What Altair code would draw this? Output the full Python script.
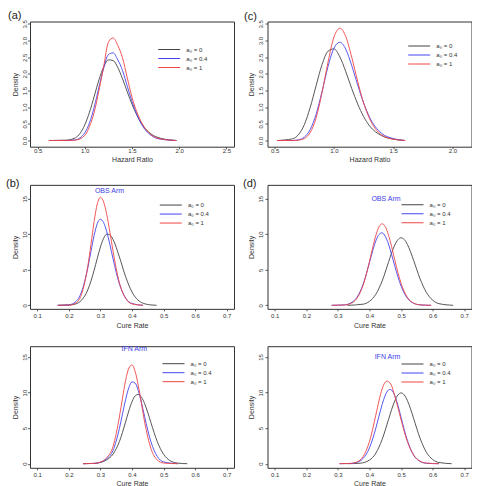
import altair as alt
import pandas as pd

# Prior weight a0 for the historical data, one curve per value
PRIORS = ["a₀ = 0", "a₀ = 0.4", "a₀ = 1"]
COLORS = ["#444444", "#4444f0", "#f04444"]

PANEL_TAGS = ["(a)", "(b)", "(c)", "(d)"]
ARM_NAMES = ["OBS Arm", "IFN Arm"]

# ---- Hazard ratio, left panel (a)
hr_a_x = [0.62, 0.80, 0.90, 1.00, 1.05, 1.10, 1.15, 1.20, 1.25, 1.30, 1.35, 1.40, 1.45, 1.50, 1.60, 1.70, 1.80, 1.97]
hr_a_0 = [0.00, 0.01, 0.08, 0.47, 0.85, 1.33, 1.82, 2.21, 2.42, 2.40, 2.19, 1.85, 1.46, 1.09, 0.51, 0.20, 0.07, 0.00]
hr_a_04 = [0.00, 0.00, 0.02, 0.23, 0.53, 1.00, 1.60, 2.17, 2.58, 2.63, 2.42, 2.10, 1.63, 1.17, 0.49, 0.16, 0.04, 0.00]
hr_a_1 = [0.00, 0.00, 0.01, 0.15, 0.42, 0.85, 1.50, 2.22, 2.95, 3.08, 2.85, 2.48, 1.88, 1.30, 0.55, 0.18, 0.05, 0.00]

# ---- Hazard ratio, right panel (c)
hr_c_x = [0.52, 0.65, 0.70, 0.75, 0.80, 0.85, 0.90, 0.95, 1.00, 1.05, 1.10, 1.15, 1.20, 1.25, 1.30, 1.40, 1.50, 1.60]
hr_c_0 = [0.00, 0.05, 0.17, 0.47, 0.99, 1.65, 2.28, 2.68, 2.75, 2.51, 2.07, 1.56, 1.10, 0.72, 0.44, 0.15, 0.04, 0.00]
hr_c_04 = [0.00, 0.00, 0.02, 0.10, 0.33, 0.79, 1.47, 2.22, 2.77, 2.95, 2.74, 2.25, 1.67, 1.13, 0.70, 0.22, 0.06, 0.00]
hr_c_1 = [0.00, 0.00, 0.01, 0.06, 0.24, 0.68, 1.44, 2.35, 3.10, 3.37, 3.12, 2.50, 1.78, 1.13, 0.66, 0.17, 0.04, 0.00]

# ---- Cure rate, OBS arm, left panel (b)
obs_b_x = [0.165, 0.20, 0.22, 0.24, 0.26, 0.27, 0.28, 0.29, 0.30, 0.31, 0.32, 0.33, 0.34, 0.36, 0.38, 0.40, 0.435]
obs_b_04 = [0.00, 0.07, 0.43, 1.86, 5.26, 7.57, 9.83, 11.49, 12.10, 11.64, 10.37, 8.55, 6.53, 3.02, 1.02, 0.26, 0.00]
obs_b_1 = [0.00, 0.03, 0.26, 1.53, 5.48, 8.56, 11.78, 14.26, 15.20, 14.56, 12.79, 10.30, 7.61, 3.20, 0.95, 0.20, 0.00]
obs_b_x0 = [0.165, 0.20, 0.22, 0.24, 0.26, 0.27, 0.28, 0.29, 0.30, 0.31, 0.32, 0.33, 0.34, 0.36, 0.38, 0.40, 0.43, 0.46, 0.478]
obs_b_0 = [0.00, 0.03, 0.17, 0.70, 2.17, 3.40, 4.93, 6.60, 8.20, 9.42, 10.02, 9.91, 9.26, 6.82, 4.00, 1.87, 0.39, 0.05, 0.00]

# ---- Cure rate, OBS arm, right panel (d)
obs_d_x = [0.28, 0.32, 0.34, 0.36, 0.38, 0.40, 0.41, 0.42, 0.43, 0.44, 0.45, 0.46, 0.47, 0.48, 0.50, 0.52, 0.54, 0.56, 0.595]
obs_d_04 = [0.00, 0.06, 0.31, 1.11, 2.98, 6.02, 7.66, 9.06, 9.96, 10.20, 9.70, 8.63, 7.15, 5.54, 2.70, 0.99, 0.28, 0.06, 0.00]
obs_d_1 = [0.00, 0.04, 0.24, 0.97, 2.86, 6.19, 8.11, 9.83, 11.03, 11.47, 11.06, 9.91, 8.26, 6.39, 3.08, 1.11, 0.30, 0.06, 0.00]
obs_d_x0 = [0.33, 0.38, 0.40, 0.42, 0.44, 0.46, 0.47, 0.48, 0.49, 0.50, 0.51, 0.52, 0.53, 0.54, 0.56, 0.58, 0.60, 0.62, 0.665]
obs_d_0 = [0.00, 0.16, 0.56, 1.55, 3.42, 6.04, 7.36, 8.48, 9.23, 9.50, 9.26, 8.57, 7.53, 6.29, 3.75, 1.82, 0.72, 0.23, 0.00]

# ---- Cure rate, IFN arm, left panel
ifn_l_x = [0.245, 0.28, 0.30, 0.32, 0.34, 0.36, 0.37, 0.38, 0.39, 0.40, 0.41, 0.42, 0.43, 0.44, 0.46, 0.48, 0.50, 0.545]
ifn_l_04 = [0.00, 0.04, 0.20, 0.70, 1.87, 4.94, 7.01, 9.06, 10.69, 11.50, 11.32, 10.26, 8.58, 6.61, 3.07, 1.03, 0.25, 0.00]
ifn_l_1 = [0.00, 0.04, 0.22, 0.85, 2.42, 6.56, 9.25, 11.74, 13.44, 13.88, 12.96, 10.97, 8.43, 5.87, 2.13, 0.52, 0.09, 0.00]
ifn_l_x0 = [0.245, 0.28, 0.30, 0.32, 0.34, 0.36, 0.38, 0.39, 0.40, 0.41, 0.42, 0.43, 0.44, 0.45, 0.46, 0.48, 0.50, 0.52, 0.545, 0.575]
ifn_l_0 = [0.00, 0.04, 0.18, 0.55, 1.35, 3.10, 5.91, 7.43, 8.72, 9.54, 9.74, 9.34, 8.44, 7.19, 5.77, 3.11, 1.32, 0.44, 0.08, 0.00]

# ---- Cure rate, IFN arm, right panel
ifn_r_x1 = [0.305, 0.34, 0.36, 0.38, 0.40, 0.42, 0.43, 0.44, 0.45, 0.455, 0.465, 0.47, 0.48, 0.49, 0.50, 0.52, 0.54, 0.56, 0.58, 0.62]
ifn_r_1 = [0.00, 0.04, 0.23, 1.02, 3.13, 6.83, 8.85, 10.52, 11.47, 11.60, 11.35, 10.95, 9.54, 7.91, 6.16, 3.10, 1.21, 0.37, 0.09, 0.00]
ifn_r_x04 = [0.305, 0.34, 0.36, 0.38, 0.40, 0.42, 0.43, 0.44, 0.45, 0.46, 0.465, 0.47, 0.48, 0.49, 0.50, 0.52, 0.54, 0.56, 0.58, 0.62]
ifn_r_04 = [0.00, 0.03, 0.19, 0.75, 2.23, 4.99, 6.68, 8.32, 9.63, 10.36, 10.45, 10.35, 9.58, 8.21, 6.51, 3.25, 1.19, 0.32, 0.06, 0.00]
ifn_r_x0 = [0.33, 0.37, 0.40, 0.42, 0.44, 0.46, 0.47, 0.48, 0.49, 0.50, 0.51, 0.52, 0.53, 0.54, 0.56, 0.58, 0.60, 0.62, 0.66]
ifn_r_0 = [0.00, 0.07, 0.51, 1.48, 3.41, 6.18, 7.61, 8.83, 9.66, 9.95, 9.67, 8.88, 7.71, 6.32, 3.59, 1.62, 0.59, 0.17, 0.00]

# Axis ticks
hr_ticks_a = [0.5, 1.0, 1.5, 2.0, 2.5]
hr_ticks_c = [0.5, 1.0, 1.5, 2.0]
hr_dens_ticks = [0.0, 0.5, 1.0, 1.5, 2.0, 2.5, 3.0, 3.5]
cure_ticks = [0.1, 0.2, 0.3, 0.4, 0.5, 0.6, 0.7]
cure_dens_ticks = [0, 5, 10, 15]

FONT = "Liberation Sans"
INK = "#333333"
W = 204
H1, H2, H3 = 125.2, 124, 121.6


def curves(xs_list, ys_list):
    rows = []
    for label, xs, ys in zip(PRIORS, xs_list, ys_list):
        for x, y in zip(xs, ys):
            rows.append({"x": x, "density": y, "prior": label})
    return pd.DataFrame(rows)


def note(text, x, y, size, color, align):
    return alt.Chart(pd.DataFrame({"t": [text]})).mark_text(
        align=align, baseline="middle", fontSize=size, color=color, font=FONT
    ).encode(text="t:N", x=alt.value(x), y=alt.value(y))


def panel(df, xdom, xticks, xtitle, ydom, yticks, yfmt, height,
          xlab_pad, xtitle_pad, ylab_pad, ytitle_pad, legend_xy, notes):
    x_axis = alt.Axis(values=xticks, format=".1f", title=xtitle, grid=False, domain=False,
                      tickSize=2, tickWidth=0.8, tickColor=INK, labelFontSize=6, labelColor=INK,
                      labelFont=FONT, labelPadding=xlab_pad, labelFlush=False, labelOverlap=False,
                      titleFontSize=7, titleFont=FONT, titleFontWeight="normal", titleColor=INK,
                      titlePadding=xtitle_pad)
    y_axis = alt.Axis(values=yticks, format=yfmt, title="Density", grid=False, domain=False,
                      tickSize=2.5, tickWidth=0.8, tickColor=INK, labelFontSize=6, labelColor=INK,
                      labelFont=FONT, labelPadding=ylab_pad, labelAngle=270, labelAlign="center",
                      labelBaseline="bottom", labelFlush=False, labelOverlap=False,
                      titleFontSize=7, titleFont=FONT, titleFontWeight="normal", titleColor=INK,
                      titlePadding=ytitle_pad)
    legend = alt.Legend(orient="none", legendX=legend_xy[0], legendY=legend_xy[1], title=None,
                        symbolType="M-2.75,0H2.75", symbolSize=64, symbolStrokeWidth=1,
                        labelFontSize=6, labelFont=FONT, labelColor=INK, labelOffset=12.6,
                        rowPadding=1, padding=0)
    lines = alt.Chart(df).mark_line(strokeWidth=0.9, interpolate="monotone").encode(
        x=alt.X("x:Q", scale=alt.Scale(domain=xdom, nice=False, zero=False), axis=x_axis),
        y=alt.Y("density:Q", scale=alt.Scale(domain=ydom, nice=False, zero=False), axis=y_axis),
        color=alt.Color("prior:N", scale=alt.Scale(domain=PRIORS, range=COLORS), legend=legend),
    )
    layers = [lines] + [note(*n) for n in notes]
    return alt.layer(*layers).properties(width=W, height=height)


HR_Y = [-0.186, 3.572]
CURE_Y2 = [-0.5, 16.949]
CURE_Y3 = [-0.576, 16.518]
CURE_X = [0.077, 0.723]
ARM_BLUE = "#3c3ce6"
TAG_INK = "#222222"

pa = panel(curves([hr_a_x] * 3, [hr_a_0, hr_a_04, hr_a_1]), [0.42, 2.58], hr_ticks_a,
           "Hazard Ratio", HR_Y, hr_dens_ticks, ".1f", H1, -1.6, 2.2, 0.2, 3, (134.7, 23.5),
           [(PANEL_TAGS[0], -22, -5.3, 11, TAG_INK, "left")])
pc = panel(curves([hr_c_x] * 3, [hr_c_0, hr_c_04, hr_c_1]), [0.44, 2.16], hr_ticks_c,
           "Hazard Ratio", HR_Y, hr_dens_ticks, ".1f", H1, -1.6, 2.2, 1.7, 3, (147.2, 20),
           [(PANEL_TAGS[2], -23.5, -5, 11, TAG_INK, "left")])
pb = panel(curves([obs_b_x0, obs_b_x, obs_b_x], [obs_b_0, obs_b_04, obs_b_1]), CURE_X, cure_ticks,
           "Cure Rate", CURE_Y2, cure_dens_ticks, "d", H2, 1.65, 3.25, 0.2, 3, (136.3, 15.7),
           [(PANEL_TAGS[1], -24, -0.85, 11, TAG_INK, "left"),
            (ARM_NAMES[0], 79.5, 6.5, 7, ARM_BLUE, "center")])
pd_ = panel(curves([obs_d_x0, obs_d_x, obs_d_x], [obs_d_0, obs_d_04, obs_d_1]), CURE_X, cure_ticks,
            "Cure Rate", CURE_Y2, cure_dens_ticks, "d", H2, 1.65, 3.25, 1.7, 3, (140.5, 15.4),
            [(PANEL_TAGS[3], -24.5, -0.85, 11, TAG_INK, "left"),
             (ARM_NAMES[0], 118.5, 14.4, 7, ARM_BLUE, "center")])
pe = panel(curves([ifn_l_x0, ifn_l_x, ifn_l_x], [ifn_l_0, ifn_l_04, ifn_l_1]), CURE_X, cure_ticks,
           "Cure Rate", CURE_Y3, cure_dens_ticks, "d", H3, 1.4, 2.2, 0.2, 3, (139, 13),
           [(ARM_NAMES[1], 104.3, 2.8, 7, ARM_BLUE, "center")])
pf = panel(curves([ifn_r_x0, ifn_r_x04, ifn_r_x1], [ifn_r_0, ifn_r_04, ifn_r_1]), CURE_X, cure_ticks,
           "Cure Rate", CURE_Y3, cure_dens_ticks, "d", H3, 1.4, 2.2, 1.7, 3, (140.5, 13.3),
           [(ARM_NAMES[1], 120, 10.3, 7, ARM_BLUE, "center")])

chart = (
    alt.concat(pa, pc, pb, pd_, pe, pf, columns=2, bounds="flush",
               spacing={"row": 37.35, "column": 33.5})
    .resolve_scale(color="independent")
    .properties(padding={"left": 5, "top": 9.5, "right": 0, "bottom": 0}, background="white")
    .configure(font=FONT)
    .configure_view(stroke=INK, strokeWidth=1)
)

chart.save("out.html", embed_options={"renderer": "svg", "actions": False})
